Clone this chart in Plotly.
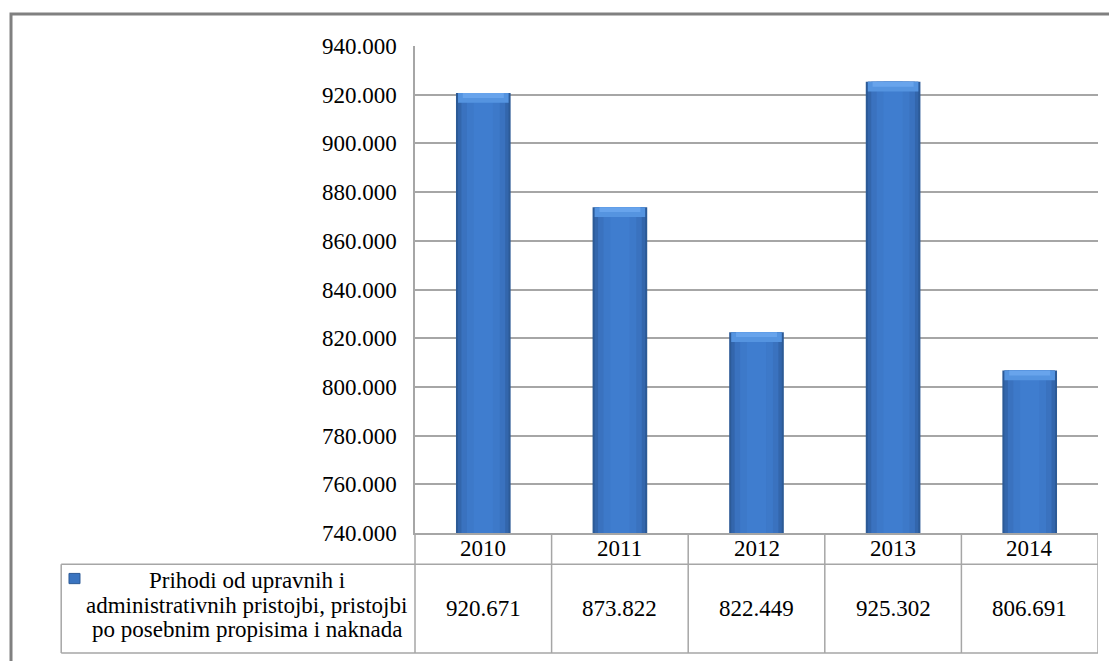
import plotly.graph_objects as go

years = ["2010", "2011", "2012", "2013", "2014"]
values = [920671, 873822, 822449, 925302, 806691]
series_lines = ["Prihodi od upravnih i",
                "administrativnih pristojbi, pristojbi",
                "po posebnim propisima i naknada"]
y_min, y_max, y_step = 740000, 940000, 20000

FONT = "Liberation Serif"
FS = 23
GRID = "#a6a6a6"

fig = go.Figure()

# simulated horizontal gradient with overlaid bars
layers = [(0.40, "#2c5a96"), (0.37, "#3366ac"), (0.32, "#3a72bf"), (0.24, "#3d79c9"), (0.14, "#3f7dcf")]
for w, c in layers:
    fig.add_trace(go.Bar(x=years, y=[v - y_min for v in values], base=y_min, width=w,
                         marker=dict(color=c, line=dict(width=0)), showlegend=False, hoverinfo="skip"))
# top bevel highlight
cap = 4000
fig.add_trace(go.Bar(x=years, y=[cap] * len(values), base=[v - cap for v in values], width=0.37,
                     marker=dict(color="#5594e0", line=dict(width=0)), showlegend=False, hoverinfo="skip"))
fig.add_trace(go.Bar(x=years, y=[cap * 0.5] * len(values), base=[v - cap * 0.5 for v in values], width=0.30,
                     marker=dict(color="#68a4ec", line=dict(width=0)), showlegend=False, hoverinfo="skip"))

shapes = []
annotations = []

# table geometry in paper coordinates (plot bottom = 0)
row1 = -0.064
row2 = -0.2464
leg_left = -0.518

def hline(x0, x1, y, xref="paper"):
    shapes.append(dict(type="line", xref=xref, yref="paper", x0=x0, x1=x1, y0=y, y1=y,
                       line=dict(color=GRID, width=1.5), layer="above"))

def vline(x, y0, y1, xref="x"):
    shapes.append(dict(type="line", xref=xref, yref="paper", x0=x, x1=x, y0=y0, y1=y1,
                       line=dict(color=GRID, width=1.5), layer="above"))

hline(leg_left, 1, row1)
hline(leg_left, 1, row2)
vline(leg_left, row1, row2, xref="paper")
vline(0, 0, row2, xref="paper")
for i in range(len(years)):
    vline(i + 0.5, 0, row2)

txtfont = dict(family=FONT, size=FS, color="#000000")
for i, (yr, v) in enumerate(zip(years, values)):
    annotations.append(dict(x=i, xref="x", y=row1 / 2, yref="paper", text=yr, showarrow=False,
                            xanchor="center", yanchor="middle", font=txtfont))
    txt = f"{v:,}".replace(",", ".")
    annotations.append(dict(x=i, xref="x", y=(row1 + row2) / 2, yref="paper", text=txt, showarrow=False,
                            xanchor="center", yanchor="middle", font=txtfont))

line_y = [-0.097, -0.148, -0.199]
for ln, yy in zip(series_lines, line_y):
    annotations.append(dict(x=-0.246, xref="paper", y=yy, yref="paper", text=ln, showarrow=False,
                            xanchor="center", yanchor="middle", font=txtfont))

# legend key square
shapes.append(dict(type="rect", xref="paper", yref="paper", x0=-0.5066, x1=-0.4905, y0=-0.083, y1=-0.104,
                   fillcolor="#3a74c0", line=dict(color="#2c5a96", width=1), layer="above"))

# outer frame
shapes.append(dict(type="rect", xref="paper", yref="paper", x0=-0.5915, x1=1.2, y0=-0.4, y1=1.0657,
                   line=dict(color="#808080", width=3), fillcolor="rgba(0,0,0,0)", layer="below"))

fig.update_layout(
    width=1117, height=661,
    margin=dict(l=407, r=27, t=38, b=136),
    paper_bgcolor="white", plot_bgcolor="white",
    barmode="overlay", separators=",.",
    font=txtfont,
    shapes=shapes, annotations=annotations,
    showlegend=False,
    xaxis=dict(type="category", showticklabels=False, showgrid=False, showline=True,
               linecolor=GRID, linewidth=1.5, ticks="", range=[-0.5, 4.5]),
    yaxis=dict(range=[y_min, y_max], dtick=y_step, tick0=y_min, tickformat=",d",
               showgrid=True, gridcolor=GRID, gridwidth=1.5, showline=True, linecolor=GRID,
               linewidth=1.5, ticks="", ticklabelstandoff=12, zeroline=False,
               tickfont=txtfont),
)

fig.write_html("out.html")
